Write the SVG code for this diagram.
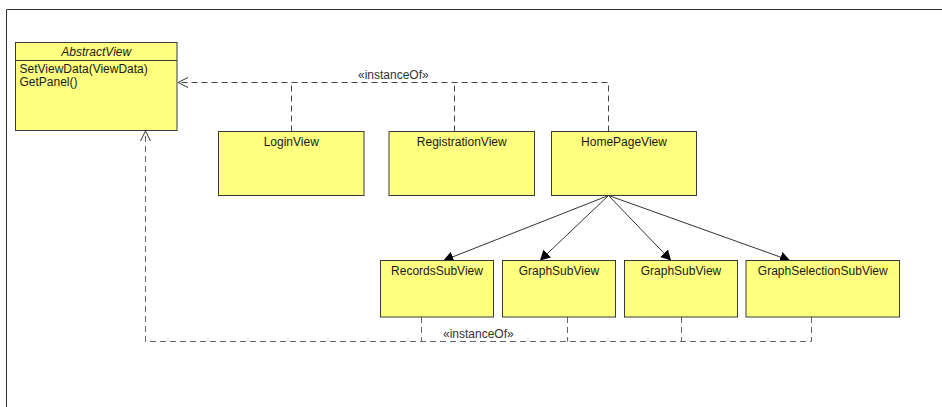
<svg xmlns="http://www.w3.org/2000/svg" width="942" height="407" viewBox="0 0 942 407">
  <style>
    .box { fill: #ffff80; stroke: #3a3a3a; stroke-width: 1; }
    .lbl { font-family: "Liberation Sans", Arial, sans-serif; font-size: 12px; fill: #1a1a1a; text-anchor: middle; }
    .op { font-family: "Liberation Sans", Arial, sans-serif; font-size: 12px; fill: #1a1a1a; }
    .title { font-style: italic; }
    .stereo { font-family: "Liberation Sans", Arial, sans-serif; font-size: 12px; fill: #333; }
    .dep { fill: none; stroke: #444; stroke-width: 1; stroke-dasharray: 6 4; }
    .dep2 { fill: none; stroke: #666; stroke-width: 1; stroke-dasharray: 6 4; }
    .assoc { fill: none; stroke: #333; stroke-width: 1; }
    .frame { fill: none; stroke: #333; stroke-width: 1; }
  </style>
  <defs>
    <marker id="open" viewBox="0 0 12 12" refX="11" refY="6" markerWidth="12" markerHeight="12" markerUnits="userSpaceOnUse" orient="auto">
      <path d="M1,1 L11,6 L1,11" fill="none" stroke="#333" stroke-width="1" stroke-dasharray="none"/>
    </marker>
    <marker id="solid" viewBox="0 0 10 11" refX="10" refY="5.5" markerWidth="10" markerHeight="11" markerUnits="userSpaceOnUse" orient="auto">
      <path d="M0,0 L10,5.5 L0,11 z" fill="#000"/>
    </marker>
  </defs>

  <!-- diagram frame -->
  <path class="frame" d="M6.5,407 L6.5,9.5 L942,9.5"/>

  <!-- connectors -->
  <g id="connectors">
    <!-- instanceOf dependencies of the top row -->
    <path class="dep" d="M608.5,131.5 L608.5,82.5 L178,82.5" marker-end="url(#open)"/>
    <path class="dep" d="M291.5,131.5 L291.5,82.5"/>
    <path class="dep" d="M454.5,131.5 L454.5,82.5"/>
    <text class="stereo" x="358" y="79">«instanceOf»</text>

    <!-- instanceOf dependencies of the sub views -->
    <path class="dep2" d="M811.5,317 L811.5,341.5 L145.5,341.5 L145.5,131" marker-end="url(#open)"/>
    <path class="dep2" d="M421.5,317 L421.5,341.5"/>
    <path class="dep2" d="M567.5,317 L567.5,341.5"/>
    <path class="dep2" d="M681.5,317 L681.5,341.5"/>
    <text class="stereo" x="443" y="338">«instanceOf»</text>

    <!-- HomePageView owns the sub views -->
    <path class="assoc" d="M608.5,195.5 L443.5,260.5" marker-end="url(#solid)"/>
    <path class="assoc" d="M608.5,195.5 L540,260.5" marker-end="url(#solid)"/>
    <path class="assoc" d="M608.5,195.5 L671,260.5" marker-end="url(#solid)"/>
    <path class="assoc" d="M608.5,195.5 L790,260.5" marker-end="url(#solid)"/>
  </g>

  <g id="AbstractView">
    <rect class="box" x="15.5" y="42.5" width="161.5" height="88"/>
    <line x1="15.5" y1="60.5" x2="177" y2="60.5" stroke="#3a3a3a" stroke-width="1"/>
    <text class="lbl title" x="96.25" y="56">AbstractView</text>
    <text class="op" x="19.5" y="73">SetViewData(ViewData)</text>
    <text class="op" x="19.5" y="85.5">GetPanel()</text>
  </g>

  <g id="LoginView">
    <rect class="box" x="218.5" y="131.5" width="145.5" height="64"/>
    <text class="lbl" x="291.25" y="146">LoginView</text>
  </g>

  <g id="RegistrationView">
    <rect class="box" x="389" y="131.5" width="145.5" height="64"/>
    <text class="lbl" x="461.75" y="146">RegistrationView</text>
  </g>

  <g id="HomePageView">
    <rect class="box" x="551.5" y="131.5" width="145" height="64"/>
    <text class="lbl" x="624" y="146">HomePageView</text>
  </g>

  <g id="RecordsSubView">
    <rect class="box" x="380.5" y="260.5" width="113" height="56.5"/>
    <text class="lbl" x="437" y="275">RecordsSubView</text>
  </g>

  <g id="GraphSubView1">
    <rect class="box" x="502.5" y="260.5" width="113" height="56.5"/>
    <text class="lbl" x="559" y="275">GraphSubView</text>
  </g>

  <g id="GraphSubView2">
    <rect class="box" x="624.5" y="260.5" width="113" height="56.5"/>
    <text class="lbl" x="681" y="275">GraphSubView</text>
  </g>

  <g id="GraphSelectionSubView">
    <rect class="box" x="746" y="260.5" width="153.5" height="56.5"/>
    <text class="lbl" x="822.75" y="275">GraphSelectionSubView</text>
  </g>
</svg>
